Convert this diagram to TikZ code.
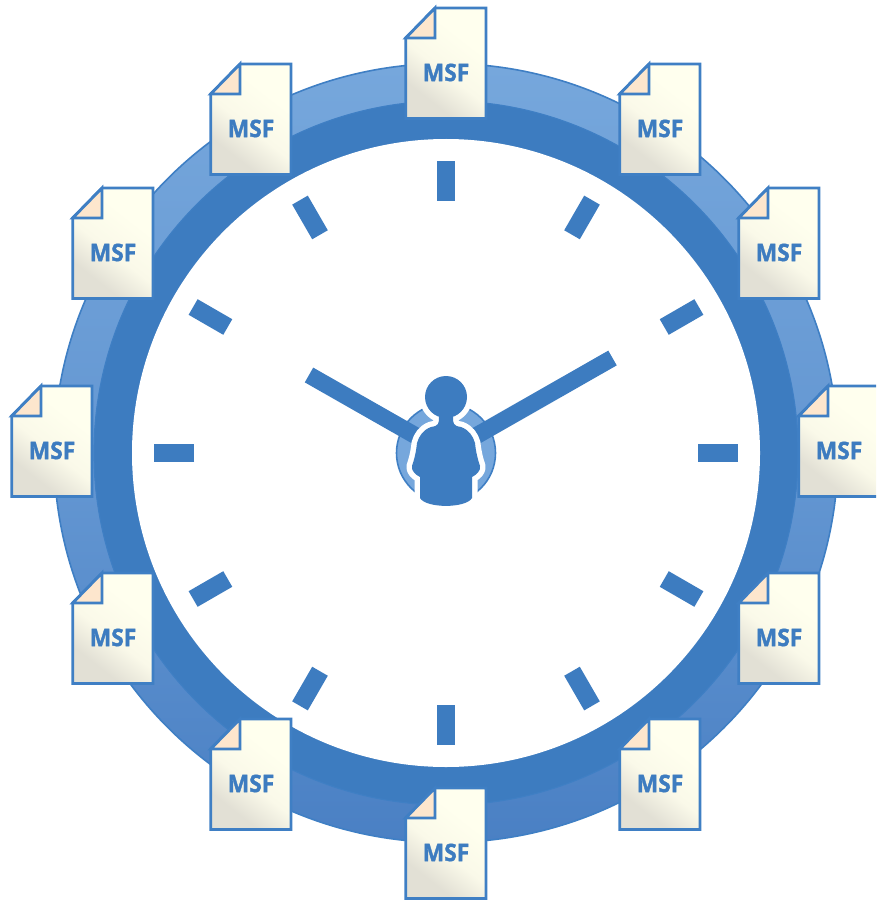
\documentclass[tikz,border=0pt]{standalone}
\usepackage{fontspec}
\usetikzlibrary{calc}
\setsansfont[BoldFeatures={FakeBold=1.6}]{Open Sans}
\definecolor{ringdark}{HTML}{3D7CC0}
\definecolor{ringedge}{HTML}{3F7FC4}
\definecolor{ringtop}{HTML}{76A7DC}
\definecolor{ringbot}{HTML}{4A80C4}
\definecolor{hubfill}{HTML}{76A7DC}
\definecolor{docA}{HTML}{FFFFEE}
\definecolor{docB}{HTML}{FAF9E9}
\definecolor{docC}{HTML}{E2E0D5}
\definecolor{foldc}{HTML}{FDE6CD}
\pgfdeclareverticalshading{docshade}{100bp}{color(0bp)=(docC); color(30bp)=(docC); color(46bp)=(docB); color(66bp)=(docA); color(100bp)=(docA)}
\tikzset{
  x=1pt,y=-1pt,
  edgeline/.style={draw=ringedge,line width=2.8pt,line join=miter},
  docbody/.style={edgeline,shading=docshade,shading angle=-38},
  docfold/.style={edgeline,fill=foldc},
  doclabel/.style={text=ringdark,font=\sffamily\bfseries\fontsize{24}{24}\selectfont,inner sep=0pt,xscale=.95},
  tickmark/.style={draw=ringdark,line width=18pt},
  handline/.style={draw=ringdark,line width=17pt},
  figureshape/.style={fill=ringdark},
  figurehalo/.style={draw=white,fill=white,line width=11pt,line join=round},
}
\begin{document}
\begin{tikzpicture}
\useasboundingbox (0,0) rectangle (876,901);
\clip (0,0) rectangle (876,901);
\coordinate (c) at (446,453);
% rings
\path[draw=ringedge,line width=1.6pt,top color=ringtop,bottom color=ringbot,middle color=ringtop!60!ringbot] (c) ellipse[x radius=392,y radius=389.5];
\path[draw=ringedge,line width=1.2pt,fill=ringdark] (c) circle[radius=352];
\fill[white] (c) circle[radius=314];
% tick marks
\foreach \a in {0,30,...,330}
  \draw[tickmark] ($(c)+(\a:252)$) -- ($(c)+(\a:292)$);
% hub
\path[draw=ringedge,line width=1.6pt,fill=hubfill] (c) circle[radius=49.5];
% hands
\coordinate (h1) at (612.5,358);
\coordinate (h2) at (309,375);
\draw[handline] (c) -- (h1);
\draw[handline] (c) -- (h2);
% figure
\def\bodypath{
  (439,417) .. controls (439,423) and (439,426) .. (431,427)
  .. controls (423,430) and (419,436) .. (417,443)
  .. controls (416,453) and (414,460) .. (412,466)
  .. controls (411,471) and (416,475) .. (420,477)
  -- (420,498) .. controls (426,508.5) and (466,508.5) .. (472,498)
  -- (472,477) .. controls (476,475) and (481,471) .. (480,466)
  .. controls (478,460) and (476,453) .. (475,443)
  .. controls (473,436) and (469,430) .. (461,427)
  .. controls (453,426) and (453,423) .. (453,417) -- cycle}
\draw[figurehalo] \bodypath;
\draw[figurehalo] (446,397) circle[radius=21];
\fill[figureshape] \bodypath;
\fill[figureshape] (446,397) circle[radius=21];
% documents
\foreach \n/\x/\y in {a/405/7,b/619/63,c/738/187,d/798/385,e/738/572,f/619/718,g/405/787,h/210/718,i/72/572,j/11/385,k/72/187,l/210/63}{
  \path[docbody] (\x+30,\y+1) -- (\x+81,\y+1) -- (\x+81,\y+111.5) -- (\x+0.7,\y+111.5) -- (\x+0.7,\y+31) -- cycle;
  \path[docfold] (\x+30,\y+1) -- (\x+30,\y+31) -- (\x+0.7,\y+31) -- cycle;
  \node[doclabel] (doc\n) at (\x+41,\y+65.5) {MSF};
}
\end{tikzpicture}
\end{document}
